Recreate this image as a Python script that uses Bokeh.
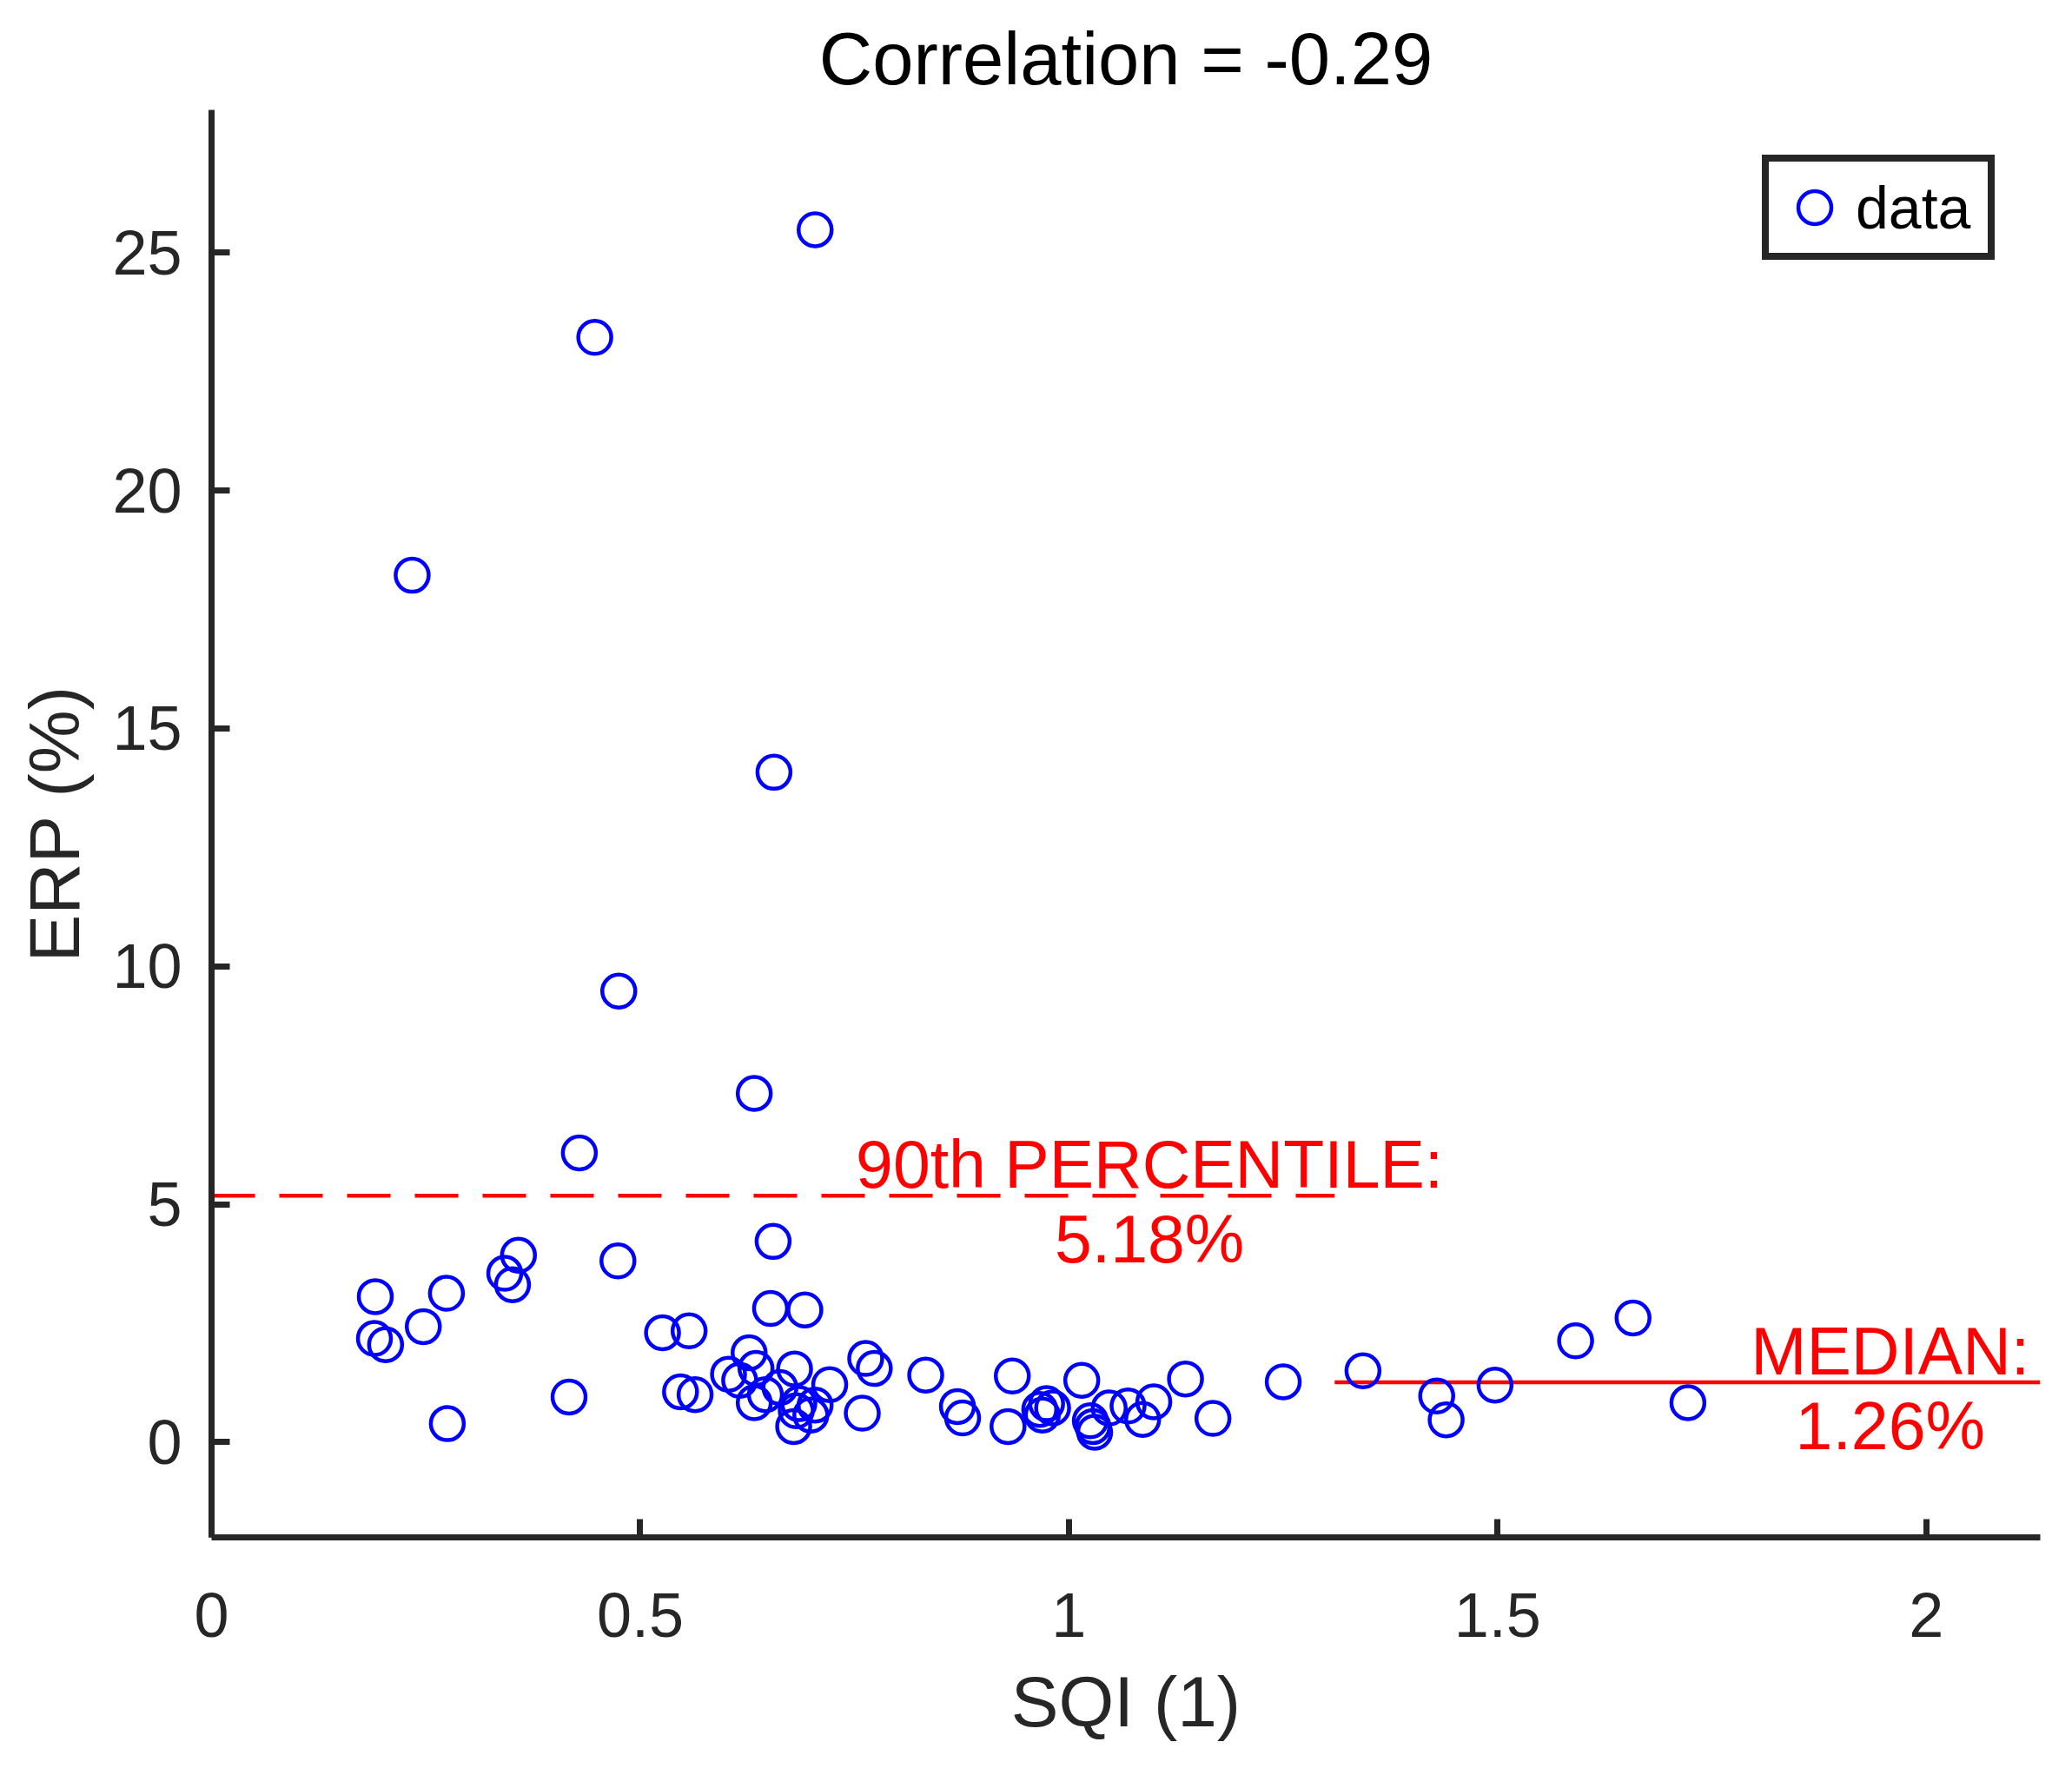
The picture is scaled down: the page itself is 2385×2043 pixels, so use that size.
from bokeh.plotting import figure
from bokeh.models import Range1d, FixedTicker
from bokeh.core.properties import value
from bokeh.embed import file_html
from bokeh.resources import INLINE

# SQI vs ERP, one circle per recording
sqi = [0.704, 0.447, 0.234, 0.656, 0.475, 0.633, 0.429,
       0.191, 0.190, 0.203, 0.247, 0.274, 0.275, 0.358, 0.342, 0.351,
       0.474, 0.417, 0.526, 0.557, 0.547, 0.564, 0.655, 0.652, 0.692,
       0.603, 0.627, 0.635, 0.616, 0.633, 0.646, 0.663, 0.680, 0.721,
       0.685, 0.704, 0.699, 0.679, 0.682, 0.763, 0.773, 0.759, 0.833,
       0.870, 0.876, 0.934, 0.929, 0.966, 0.974, 0.981, 0.969, 1.015,
       1.025, 1.030, 1.028, 1.047, 1.069, 1.099, 1.086, 1.136, 1.168,
       1.250, 1.343, 1.429, 1.440, 1.497, 1.591, 1.658, 1.722]
erp = [25.48, 23.22, 18.22, 14.08, 9.48, 7.33, 6.08,
       3.06, 2.18, 2.05, 2.43, 3.13, 0.39, 3.93, 3.55, 3.31,
       3.81, 0.95, 2.30, 2.34, 1.06, 1.00, 4.22, 2.81, 2.78,
       1.43, 1.88, 1.55, 1.30, 0.83, 1.00, 1.15, 1.54, 1.21,
       0.81, 0.78, 0.57, 0.33, 0.66, 1.76, 1.55, 0.61, 1.41,
       0.75, 0.51, 1.39, 0.33, 0.69, 0.81, 0.72, 0.57, 1.30,
       0.45, 0.21, 0.33, 0.72, 0.76, 0.85, 0.48, 1.33, 0.50,
       1.27, 1.50, 0.97, 0.47, 1.20, 2.13, 2.61, 0.83]

x_ticks = [0, 0.5, 1, 1.5, 2]
x_tick_labels = ["0", "0.5", "1", "1.5", "2"]
y_ticks = [0, 5, 10, 15, 20, 25]
y_tick_labels = ["0", "5", "10", "15", "20", "25"]

p90 = 5.18
median = 1.26
split_x = 1.31   # where the dashed 90th line ends and the median line starts
x_max = 2.133
correlation = -0.29

FONT = "Liberation Sans"
AXIS_COLOR = "#262626"

p = figure(width=2369, height=2027,
           x_range=Range1d(0, x_max), y_range=Range1d(-2, 28),
           title=f"Correlation = {correlation:.2f}",
           x_axis_label="SQI (1)", y_axis_label="ERP (%)",
           output_backend="svg", toolbar_location=None,
           min_border_left=243, min_border_right=21,
           min_border_top=126, min_border_bottom=258)

p.outline_line_color = None
p.grid.visible = False
p.background_fill_color = "white"
p.border_fill_color = "white"

p.title.align = "center"
p.title.text_font = FONT
p.title.text_font_size = "85px"
p.title.text_font_style = "normal"
p.title.text_color = "black"
p.title.standoff = 23

for ax in (p.xaxis[0], p.yaxis[0]):
    ax.axis_line_color = AXIS_COLOR
    ax.axis_line_width = 7
    ax.major_tick_line_color = AXIS_COLOR
    ax.major_tick_line_width = 7
    ax.major_tick_in = 21
    ax.major_tick_out = 0
    ax.minor_tick_line_color = None
    ax.major_label_text_font = FONT
    ax.major_label_text_font_size = "72px"
    ax.major_label_text_color = AXIS_COLOR
    ax.axis_label_text_font = FONT
    ax.axis_label_text_font_size = "82px"
    ax.axis_label_text_font_style = "normal"
    ax.axis_label_text_color = AXIS_COLOR

p.xaxis[0].ticker = FixedTicker(ticks=x_ticks)
p.xaxis[0].major_label_overrides = dict(zip(x_ticks, x_tick_labels))
p.xaxis[0].major_label_standoff = 64
p.xaxis[0].axis_label_standoff = 26
p.yaxis[0].ticker = FixedTicker(ticks=y_ticks)
p.yaxis[0].major_label_overrides = dict(zip(y_ticks, y_tick_labels))
p.yaxis[0].major_label_standoff = 34
p.yaxis[0].axis_label_standoff = 18

# reference lines
p.line([0, split_x], [p90, p90], line_color="red", line_width=4.5, line_dash="50 28")
p.line([split_x, x_max], [median, median], line_color="red", line_width=4.5)

p.scatter(sqi, erp, marker="circle", size=38, fill_color=None,
          line_color="#0000ff", line_width=4.5, legend_label="data")

p.text(x=[1.094], y=[p90], text=[f"90th PERCENTILE:\n{p90:.2f}%"],
       text_color="red", text_font=value(FONT), text_font_size="77px",
       text_align="center", text_baseline="middle", text_line_height=1.0,
       y_offset=7)
p.text(x=[1.958], y=[median], text=[f"MEDIAN:\n{median:.2f}%"],
       text_color="red", text_font=value(FONT), text_font_size="77px",
       text_align="center", text_baseline="middle", text_line_height=1.0,
       y_offset=7)

lg = p.legend[0]
lg.location = "top_right"
lg.margin = 52
lg.border_line_color = AXIS_COLOR
lg.border_line_width = 8
lg.border_line_alpha = 1
lg.background_fill_alpha = 1
lg.padding = 5
lg.glyph_width = 95
lg.glyph_height = 95
lg.label_standoff = 0
lg.label_width = 147
lg.label_text_font = FONT
lg.label_text_font_size = "68px"
lg.label_text_color = "black"

open("out.html", "w").write(file_html(p, INLINE))
